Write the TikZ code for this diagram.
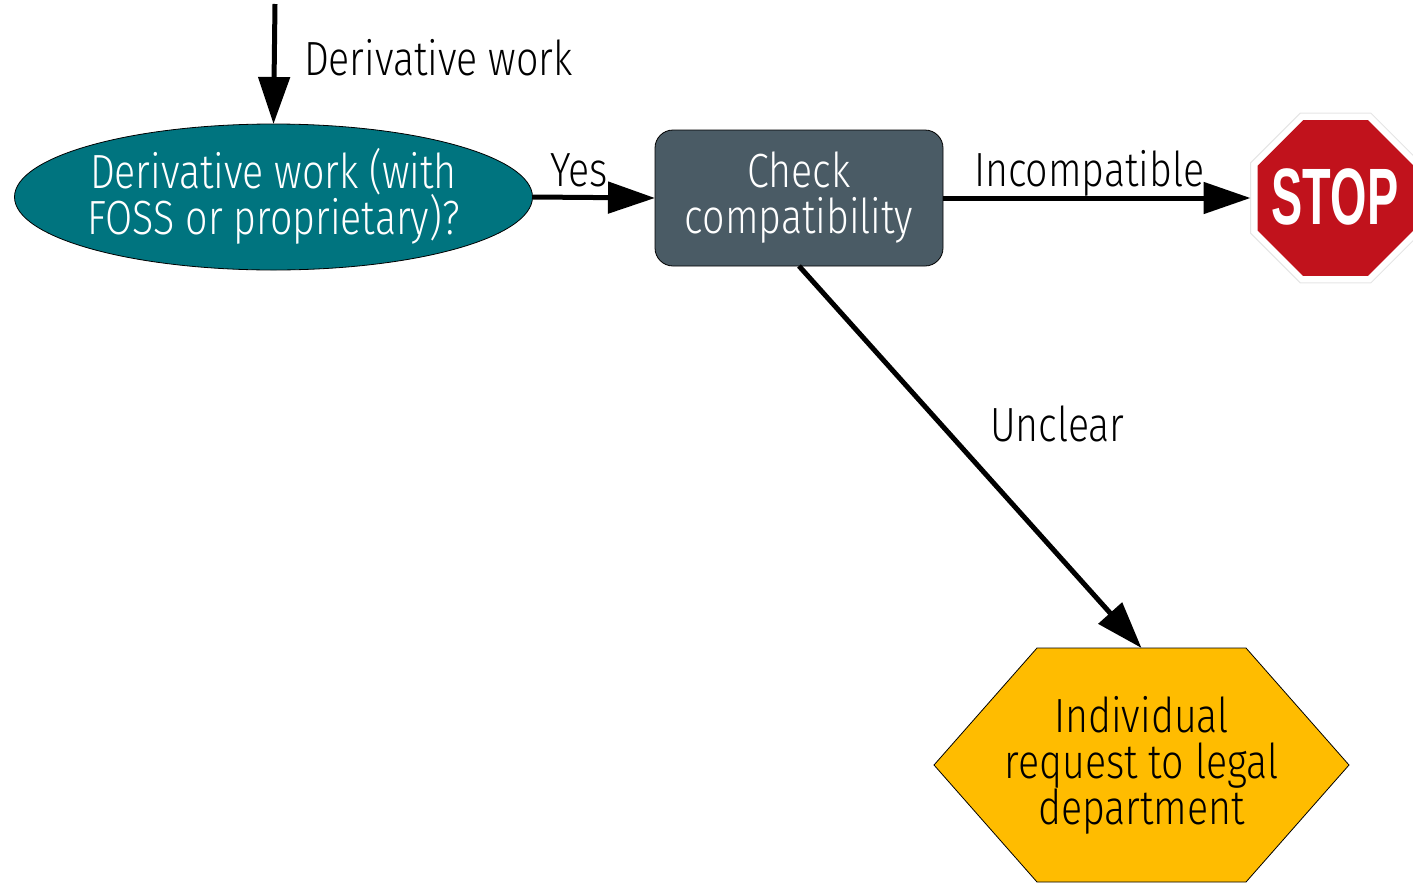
\documentclass[tikz,border=0pt]{standalone}
\usepackage{fontspec}
\setmainfont[FakeStretch=0.82,UprightFont=* Light,BoldFont=* Bold]{Fira Sans}
\newfontfamily\stopfont[FakeStretch=0.585]{Liberation Sans Bold}
\usetikzlibrary{arrows.meta,shapes.geometric,calc}
\definecolor{tealfill}{RGB}{0,116,127}
\definecolor{slatefill}{RGB}{74,91,101}
\definecolor{amberfill}{RGB}{255,188,0}
\definecolor{stopred}{RGB}{193,18,28}
\definecolor{stopedge}{RGB}{229,229,229}
\setlength{\lineskiplimit}{-50pt}
\tikzset{
  shapebase/.style={inner sep=0pt,outer sep=0pt,align=center,font=\fontsize{24}{23}\selectfont},
  arrowline/.style={line width=2.5pt,-{Triangle[length=23.5pt,width=15.5pt]}},
  lbl/.style={anchor=base west,inner sep=0pt,outer sep=0pt,font=\fontsize{24}{23}\selectfont},
  octa/.style={regular polygon,regular polygon sides=8,inner sep=0pt,outer sep=0pt},
}
\begin{document}
\begin{tikzpicture}[x=0.5pt,y=-0.5pt]
\useasboundingbox (0,0) rectangle (1413,884);
\node[ellipse,inner sep=0pt,outer sep=0pt,draw=black,line width=0.4pt,fill=tealfill,minimum width=259pt,minimum height=73pt] (ell) at (273.5,197) {};
\node[shapebase,text=white] (ellt) at (273.5,196) {Derivative work (with\\FOSS or proprietary)?};
\node[shapebase,rectangle,rounded corners=9pt,draw=black,line width=0.4pt,fill=slatefill,text=white,minimum width=144pt,minimum height=68pt] (chk) at (799,198) {Check\\compatibility};
\node[shapebase,rectangle,minimum width=207.5pt,minimum height=117pt] (hex) at (1141.5,765) {\phantom{x}};
\draw[fill=amberfill,line width=0.4pt] (hex.west) -- ($(hex.north west)+(103,0)$) -- ($(hex.north east)+(-103,0)$) -- (hex.east) -- ($(hex.south east)+(-103,0)$) -- ($(hex.south west)+(103,0)$) -- cycle;
\node[shapebase] (hext) at (1141.5,765) {Individual\\request to legal\\department};
\node[octa,draw=stopedge,line width=0.5pt,fill=white,minimum size=92pt] (stopo) at (1335.5,198) {};
\node[octa,fill=stopred,minimum size=84.4pt] (stopi) at (stopo.center) {};
\node[inner sep=0pt,outer sep=0pt,text=white,font=\stopfont\fontsize{40}{40}\selectfont] (stopt) at (1335,197) {STOP};
\coordinate (start) at (275,4);
\draw[arrowline] (start) -- (ell.north);
\draw[arrowline] (ell.east) -- (chk.west);
\draw[arrowline] (chk.east) -- (stopo.west);
\draw[arrowline] (chk.south) -- (hex.north);
\node[lbl] (l1) at (304,75) {Derivative work};
\node[lbl] (l2) at (550,186) {Yes};
\node[lbl] (l3) at (974,186) {Incompatible};
\node[lbl] (l4) at (990,441) {Unclear};
\end{tikzpicture}
\end{document}
